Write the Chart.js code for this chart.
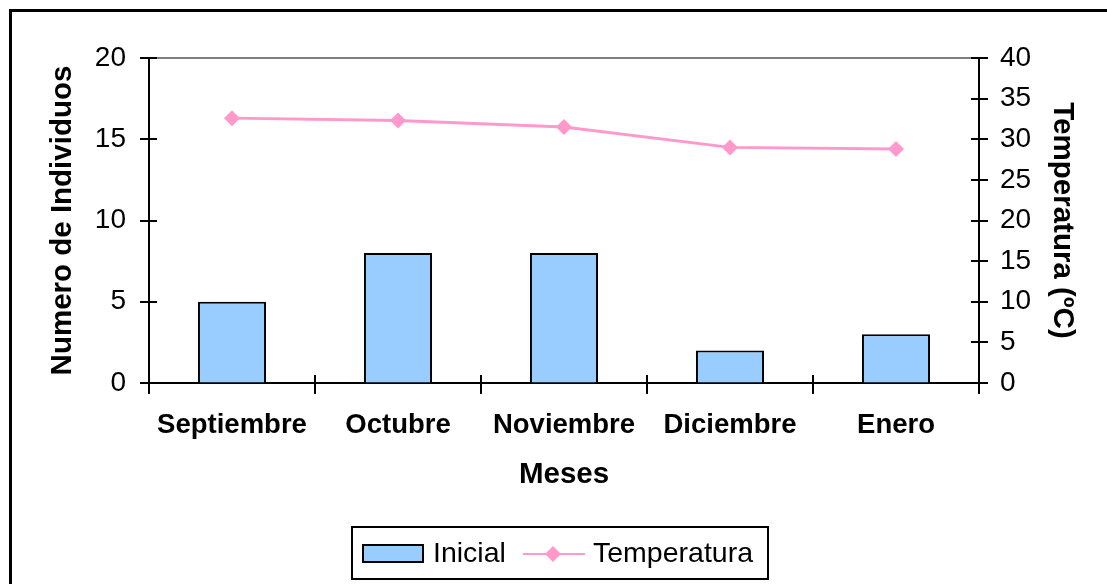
<!DOCTYPE html>
<html>
<head>
<meta charset="utf-8">
<script src="https://cdn.jsdelivr.net/npm/chart.js@4/dist/chart.umd.min.js"></script>
<style>
  html, body { margin: 0; padding: 0; background: #ffffff; }
  #wrap { width: 1107px; height: 584px; position: relative; }
</style>
</head>
<body>
<div id="wrap"><canvas id="c" width="1107" height="584"></canvas></div>
<script>
// Monthly data
const months = ['Septiembre', 'Octubre', 'Noviembre', 'Diciembre', 'Enero'];
const inicial = [5, 8, 8, 2, 3];
const temperatura = [32.6, 32.3, 31.5, 29.0, 28.8];

// Axis ranges
const leftAxis = { min: 0, max: 20, step: 5 };
const rightAxis = { min: 0, max: 40, step: 5 };

const FONT = '"Liberation Sans", Arial, sans-serif';
const BAR_FILL = '#99CCFF';
const LINE_PINK = '#FF99CC';

// Outer frame, top border of the plot, crossing tick marks and boxed legend
const decorations = {
  id: 'decorations',
  afterDraw(chart) {
    const ctx = chart.ctx;
    const area = chart.chartArea;
    const x = chart.scales.x, y = chart.scales.y, y2 = chart.scales.y2;
    ctx.save();

    // outer frame
    ctx.strokeStyle = '#000';
    ctx.lineWidth = 3;
    ctx.strokeRect(10.5, 10.5, 1300, 800);

    // top border of plot area
    ctx.strokeStyle = '#808080';
    ctx.lineWidth = 2;
    ctx.beginPath();
    ctx.moveTo(area.left, area.top);
    ctx.lineTo(area.right, area.top);
    ctx.stroke();

    ctx.strokeStyle = '#000';
    ctx.lineWidth = 2;
    ctx.beginPath();
    y.ticks.forEach(t => {
      const py = Math.round(y.getPixelForValue(t.value));
      ctx.moveTo(area.left - 9, py);
      ctx.lineTo(area.left + 8, py);
    });
    y2.ticks.forEach(t => {
      const py = Math.round(y2.getPixelForValue(t.value));
      ctx.moveTo(area.right - 8, py);
      ctx.lineTo(area.right + 9, py);
    });
    const n = chart.data.labels.length;
    for (let i = 0; i <= n; i++) {
      const px = Math.round(x.left + i * (x.width / n));
      ctx.moveTo(px, area.bottom - 8);
      ctx.lineTo(px, area.bottom + 11);
    }
    ctx.stroke();

    // legend
    const barDs = chart.data.datasets.find(d => d.type === 'bar');
    const lineDs = chart.data.datasets.find(d => d.type === 'line');
    ctx.lineWidth = 2;
    ctx.strokeStyle = '#000';
    ctx.strokeRect(352, 527, 416, 52);
    ctx.fillStyle = barDs.backgroundColor;
    ctx.fillRect(363, 545, 60, 17);
    ctx.strokeRect(363, 545, 60, 17);
    ctx.strokeStyle = lineDs.borderColor;
    ctx.lineWidth = 2;
    ctx.beginPath();
    ctx.moveTo(523, 554);
    ctx.lineTo(585, 554);
    ctx.stroke();
    ctx.fillStyle = lineDs.pointBackgroundColor;
    ctx.beginPath();
    ctx.moveTo(553 - 8, 554);
    ctx.lineTo(553, 554 - 8);
    ctx.lineTo(553 + 8, 554);
    ctx.lineTo(553, 554 + 8);
    ctx.closePath();
    ctx.fill();
    ctx.fillStyle = '#000';
    ctx.font = '28.5px ' + FONT;
    ctx.textBaseline = 'middle';
    ctx.textAlign = 'left';
    ctx.fillText(barDs.label, 433, 554);
    ctx.fillText(lineDs.label, 593, 554);

    ctx.restore();
  }
};

new Chart(document.getElementById('c'), {
  data: {
    labels: months,
    datasets: [
      {
        type: 'line',
        label: 'Temperatura',
        data: temperatura,
        yAxisID: 'y2',
        borderColor: LINE_PINK,
        backgroundColor: LINE_PINK,
        pointBackgroundColor: LINE_PINK,
        pointBorderColor: LINE_PINK,
        borderWidth: 3,
        pointStyle: 'rectRot',
        pointRadius: 8,
        pointBorderWidth: 0,
        tension: 0,
        order: 0
      },
      {
        type: 'bar',
        label: 'Inicial',
        data: inicial,
        yAxisID: 'y',
        backgroundColor: BAR_FILL,
        borderColor: '#000',
        borderWidth: 2,
        barPercentage: 0.41,
        categoryPercentage: 1.0,
        order: 1
      }
    ]
  },
  options: {
    responsive: false,
    animation: false,
    devicePixelRatio: 1,
    layout: { padding: { top: 58, left: 0, right: 0, bottom: 0 } },
    plugins: { legend: { display: false }, tooltip: { enabled: false } },
    scales: {
      x: {
        offset: true,
        grid: { drawOnChartArea: false, drawTicks: false },
        border: { display: true, color: '#000', width: 2 },
        ticks: { color: '#000', padding: 26, font: { family: FONT, size: 27.5, weight: 'bold' } },
        title: {
          display: true, text: 'Meses', color: '#000',
          font: { family: FONT, size: 29.5, weight: 'bold' },
          padding: { top: 0, bottom: 91 }
        },
        afterFit(s) { s.height = 201; }
      },
      y: {
        position: 'left',
        min: leftAxis.min, max: leftAxis.max,
        grid: { drawOnChartArea: false, drawTicks: false },
        border: { display: true, color: '#000', width: 2 },
        ticks: { stepSize: leftAxis.step, color: '#000', padding: 23, font: { family: FONT, size: 28 } },
        title: {
          display: true, text: 'Numero de Individuos', color: '#000',
          font: { family: FONT, size: 29.5, weight: 'bold' },
          padding: { top: 45, bottom: 0 }
        },
        afterFit(s) { s.width = 149; }
      },
      y2: {
        position: 'right',
        min: rightAxis.min, max: rightAxis.max,
        grid: { drawOnChartArea: false, drawTicks: false },
        border: { display: true, color: '#000', width: 2 },
        ticks: { stepSize: rightAxis.step, color: '#000', padding: 21, font: { family: FONT, size: 28 } },
        title: {
          display: true, text: 'Temperatura (ºC)', color: '#000',
          font: { family: FONT, size: 29.5, weight: 'bold' },
          padding: { top: 27, bottom: 0 }
        },
        afterFit(s) { s.width = 128; }
      }
    }
  },
  plugins: [decorations]
});
</script>
</body>
</html>
